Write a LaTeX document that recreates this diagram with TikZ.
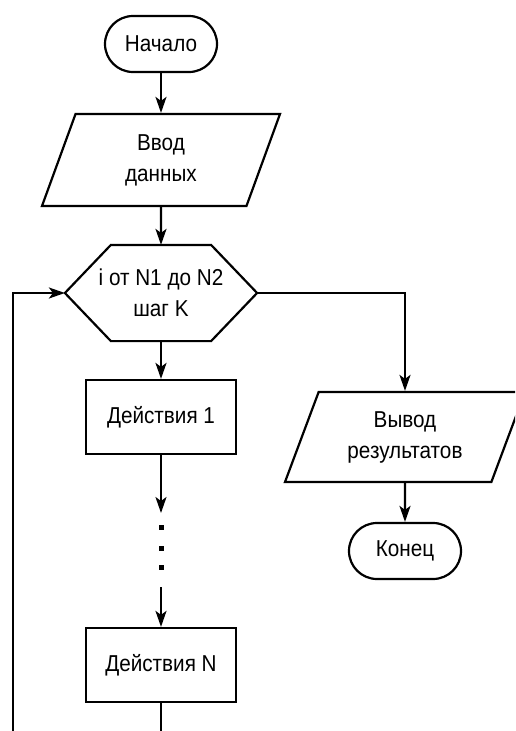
\documentclass[tikz,border=0pt]{standalone}
\usepackage{fontspec}
\setmainfont[FakeStretch=0.9]{Liberation Sans}
\usetikzlibrary{shapes.geometric,arrows.meta}
\tikzset{
  term/.style={draw,rectangle,rounded corners=28pt,minimum width=112pt,minimum height=56pt},
  io/.style={draw,trapezium,trapezium left angle=60,trapezium right angle=120,
    trapezium stretches body,minimum width=238pt,minimum height=92pt,align=center},
  proc/.style={draw,rectangle,minimum width=150pt,minimum height=74pt},
  loopbox/.style={rectangle,minimum width=190pt,minimum height=94pt,align=center},
  arr/.style={-{Stealth[length=16pt,width=11pt,inset=4pt]}},
  dotmark/.style={fill,rectangle,inner sep=0pt,minimum size=5pt}
}
\begin{document}
\begin{tikzpicture}[x=1pt,y=-1pt,line width=2.2pt,font=\fontsize{23}{31}\selectfont]
\clip (0,0) rectangle (515,731);
\node[term] (start) at (161,44) {Начало};
\node[io] (inp) at (161,160) {Ввод\\данных};
\node[loopbox] (loop) at (161,293) {i от N1 до N2\\шаг K};
\draw (loop.west) -- ([xshift=46pt]loop.north west) -- ([xshift=-46pt]loop.north east)
  -- (loop.east) -- ([xshift=-46pt]loop.south east) -- ([xshift=46pt]loop.south west) -- cycle;
\node[proc] (act1) at (161,417) {Действия 1};
\coordinate (gapA) at (161,513);
\node[dotmark] (d1) at (161,527) {};
\node[dotmark] (d2) at (161,548) {};
\node[dotmark] (d3) at (161,567) {};
\coordinate (gapB) at (161,587);
\node[proc] (actN) at (161,665) {Действия N};
\node[io,minimum width=240pt,minimum height=90pt] (out) at (405,437) {Вывод\\результатов};
\node[term] (stop) at (405,551) {Конец};
\coordinate (back) at (13,760);

\draw[arr] (start) -- (inp);
\draw[arr] (inp) -- (loop);
\draw[arr] (loop) -- (act1);
\draw[arr] (act1) -- (gapA);
\draw[arr] (gapB) -- (actN);
\draw[arr] (loop.east) -| (out.north);
\draw[arr] (out) -- (stop);
\draw[arr] (actN.south) |- (back) |- (loop.west);
\end{tikzpicture}
\end{document}
